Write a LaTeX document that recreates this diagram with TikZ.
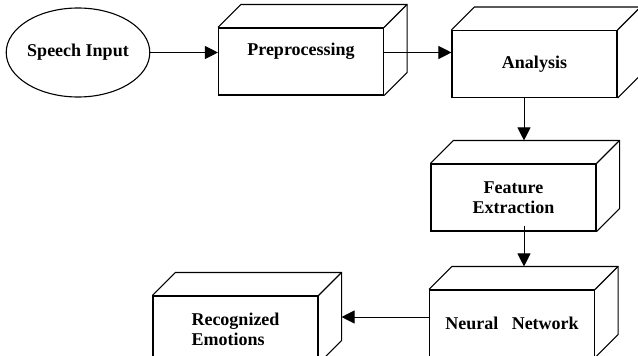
\documentclass[tikz,border=0pt]{standalone}
\usepackage{fontspec}
\setmainfont{Liberation Serif}
\usetikzlibrary{shapes.geometric,arrows.meta}

% depth of the 3d boxes
\newcommand{\dep}{23pt}
% draws top and side faces behind a box node
\newcommand{\cube}[1]{%
	\draw[boxline] (#1.north west) -- ++(\dep,\dep)
		-- ([shift={(\dep,\dep)}]#1.north east) coordinate (#1-bk)
		-- ([shift={(\dep,\dep)}]#1.south east) -- (#1.south east);
	\draw[boxline] (#1.north east) -- (#1-bk);
}

\tikzset{
	boxline/.style={line width=1.1pt},
	box/.style={draw, boxline, fill=white, minimum width=165pt, minimum height=67pt,
		align=center, font=\fontsize{18}{20}\selectfont\bfseries},
	start/.style={draw, boxline, ellipse, minimum width=140pt, minimum height=89pt,
		inner sep=0pt, font=\fontsize{18}{20}\selectfont\bfseries},
	arr/.style={line width=1pt, -{Triangle[length=13pt,width=13pt]}},
}

\begin{document}
\begin{tikzpicture}[x=1pt, y=-1pt]
	\path[use as bounding box, clip] (0,0) rectangle (638,356);
	\fill[white] (0,0) rectangle (638,356);

	\node[start] (sp) at (78,52.5) {Speech Input};
	\node[box, text depth=25pt] (pre) at (301,61.5) {Preprocessing};
	\node[box] (ana) at (534.5,64) {Analysis};
	\node[box] (fea) at (513.5,197.5) {Feature\\Extraction};
	\node[box] (neu) at (512,323.5) {Neural\ \ \ Network};
	\node[box, align=left] (rec) at (235.5,329.5) {Recognized\\Emotions};

	\cube{pre}
	\cube{ana}
	\cube{fea}
	\cube{neu}
	\cube{rec}

	\draw[arr] (sp.east) -- (sp.east -| pre.west);
	\draw[arr] (sp.east -| pre.east) -- (sp.east -| ana.west);
	\draw[arr] ([xshift=-10.5pt]ana.south) -- ([xshift=-10.5pt]ana.south |- fea-bk);
	\draw[arr] ([xshift=10.5pt,yshift=6pt]fea.south) -- ([xshift=10.5pt]fea.south |- neu-bk);
	\draw[arr] ([yshift=6.5pt]neu.west) -- ([yshift=6.5pt]neu.west -| rec-bk);
\end{tikzpicture}
\end{document}
